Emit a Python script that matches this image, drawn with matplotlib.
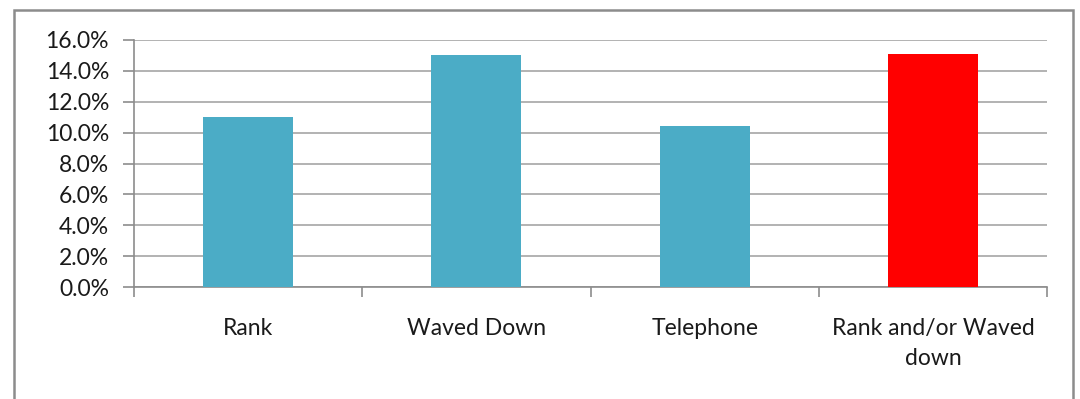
import matplotlib.pyplot as plt
from matplotlib.patches import Rectangle
from matplotlib.ticker import FuncFormatter, FixedLocator, NullFormatter

plt.rcParams['font.family'] = ['Lato', 'DejaVu Sans']

categories = ['Rank', 'Waved Down', 'Telephone', 'Rank and/or Waved\ndown']
shares = [11.0, 15.0, 10.4, 15.1]
bar_colors = ['#4BACC6', '#4BACC6', '#4BACC6', '#FF0000']

fig = plt.figure(figsize=(10.8, 3.99), dpi=100)
fig.patch.set_facecolor('white')

# grey outer frame of the chart area, running off the bottom edge
fig.patches.append(Rectangle((14 / 1080, -0.05), (1073 - 14) / 1080, 1.05 - 10 / 399,
                             transform=fig.transFigure, fill=False,
                             edgecolor='#8c8c8c', linewidth=1.8, zorder=0))

ax = fig.add_axes([134 / 1080, 1 - 287 / 399, (1047 - 134) / 1080, (287 - 40) / 399])
x = range(len(categories))
ax.bar(x, shares, width=0.395, color=bar_colors, zorder=3)

ax.set_ylim(0, 16)
ax.set_xlim(-0.5, len(categories) - 0.5)
ax.set_yticks([0, 2, 4, 6, 8, 10, 12, 14, 16])
ax.yaxis.set_major_formatter(FuncFormatter(lambda v, p: f'{v:.1f}%'))
ax.grid(axis='y', color='#a6a6a6', linewidth=1.2, zorder=0)

# category labels centred, tick marks on the boundaries
ax.set_xticks(list(x))
ax.set_xticklabels(categories, fontsize=16.5, color='#1a1a1a', linespacing=1.55)
ax.tick_params(axis='x', which='major', length=0, pad=22)
ax.xaxis.set_minor_locator(FixedLocator([-0.5, 0.5, 1.5, 2.5, 3.5]))
ax.xaxis.set_minor_formatter(NullFormatter())
ax.tick_params(axis='x', which='minor', length=7, color='#8c8c8c', width=1.2)
ax.tick_params(axis='y', length=8, color='#8c8c8c', width=1.2, pad=10,
               labelsize=16.5, labelcolor='#1a1a1a')

for side in ['top', 'right']:
    ax.spines[side].set_visible(False)
ax.spines['left'].set_color('#8c8c8c')
ax.spines['bottom'].set_color('#8c8c8c')
ax.spines['left'].set_linewidth(1.2)
ax.spines['bottom'].set_linewidth(1.2)

fig.savefig('out.png', dpi=100)
